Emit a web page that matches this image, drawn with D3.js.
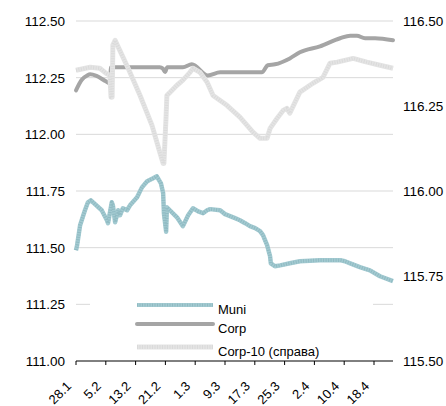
<!DOCTYPE html>
<html>
<head>
<meta charset="utf-8">
<script src="https://cdn.jsdelivr.net/npm/d3@7"></script>
<style>
  body { margin: 0; background: #fff; }
  text { font-family: "Liberation Sans", Arial, sans-serif; fill: #000; }
</style>
</head>
<body>
<div id="chart"></div>
<script>
// ==============================
// Data (x = days since 28.1)
// ==============================
var tickDays = [0, 8, 16, 24, 32, 40, 48, 56, 64, 72, 80];
var tickLabels = ["28.1", "5.2", "13.2", "21.2", "1.3", "9.3", "17.3", "25.3", "2.4", "10.4", "18.4"];
var leftTicks = [111.00, 111.25, 111.50, 111.75, 112.00, 112.25, 112.50];
var rightTicks = [115.50, 115.75, 116.00, 116.25, 116.50];

var muniDays = [0, 0.3, 1.1, 2.4, 3.2, 4.0, 6.9, 8.3, 8.6, 9.6, 9.9, 10.5, 11.3, 11.8, 12.6, 13.7, 14.5, 16.4, 17.7, 19.1, 20.7, 21.7, 22.8, 23.4, 23.6, 24.2, 24.4, 25.2, 27.1, 28.7, 30.1, 31.4, 32.8, 34.1, 35.2, 36.0, 38.7, 40.0, 42.7, 44.0, 45.4, 46.7, 48.1, 49.4, 50.2, 51.3, 52.1, 52.3, 53.4, 54.8, 57.4, 60.1, 65.5, 68.2, 70.9, 72.2, 73.6, 76.2, 78.9, 81.6, 85.1];
var muniVals = [111.489, 111.511, 111.599, 111.665, 111.700, 111.709, 111.665, 111.621, 111.608, 111.700, 111.687, 111.612, 111.665, 111.643, 111.674, 111.665, 111.687, 111.722, 111.766, 111.793, 111.806, 111.815, 111.784, 111.740, 111.652, 111.570, 111.678, 111.665, 111.634, 111.595, 111.643, 111.674, 111.660, 111.652, 111.665, 111.670, 111.665, 111.648, 111.630, 111.621, 111.608, 111.595, 111.586, 111.573, 111.555, 111.511, 111.462, 111.431, 111.418, 111.422, 111.431, 111.440, 111.445, 111.445, 111.445, 111.440, 111.431, 111.414, 111.400, 111.374, 111.352];

var corpDays = [0, 1.5, 3.0, 3.8, 5.5, 8.0, 9.1, 9.4, 22.5, 23.3, 23.9, 24.5, 28.7, 31.1, 35.4, 38.7, 49.9, 51.5, 53.4, 57.4, 60.1, 65.5, 70.9, 73.6, 75.4, 77.6, 80.3, 85.1];
var corpVals = [112.194, 112.240, 112.260, 112.265, 112.258, 112.234, 112.225, 112.296, 112.296, 112.290, 112.275, 112.296, 112.296, 112.309, 112.260, 112.274, 112.274, 112.305, 112.309, 112.335, 112.362, 112.388, 112.424, 112.435, 112.435, 112.424, 112.424, 112.415];

var corp10Days = [0, 3.8, 6.4, 8.1, 9.1, 9.4, 9.7, 9.9, 10.5, 14.0, 17.2, 20.4, 22.5, 23.4, 23.6, 24.2, 24.4, 25.2, 27.1, 28.7, 30.6, 31.4, 33.3, 35.2, 36.8, 40.5, 44.0, 47.5, 49.4, 51.3, 52.1, 54.0, 55.6, 56.6, 57.4, 60.1, 63.6, 66.3, 68.2, 70.1, 74.4, 78.1, 81.6, 85.1];
var corp10Vals = [116.355, 116.364, 116.361, 116.346, 116.340, 116.276, 116.276, 116.429, 116.443, 116.361, 116.281, 116.193, 116.114, 116.081, 116.081, 116.223, 116.281, 116.290, 116.311, 116.326, 116.349, 116.361, 116.349, 116.320, 116.281, 116.252, 116.217, 116.173, 116.155, 116.155, 116.184, 116.214, 116.237, 116.243, 116.229, 116.291, 116.317, 116.334, 116.376, 116.379, 116.390, 116.379, 116.370, 116.361];

var seriesNames = ["Muni", "Corp", "Corp-10 (справа)"];

// ==============================
// Setup SVG Area
// ==============================
var svgWidth = 446, svgHeight = 406;
var margin = { top: 21, right: 53, bottom: 45, left: 76 };
var width = svgWidth - margin.left - margin.right;
var height = svgHeight - margin.top - margin.bottom;

var svg = d3.select("#chart").append("svg")
  .attr("width", svgWidth)
  .attr("height", svgHeight);

var chartGroup = svg.append("g")
  .attr("transform", `translate(${margin.left}, ${margin.top})`);

// Scales
var xScale = d3.scaleLinear().domain([0, 85.1]).range([0, width]);
var yLeft = d3.scaleLinear().domain([111, 112.5]).range([height, 0]);
var yRight = d3.scaleLinear().domain([115.5, 116.5]).range([height, 0]);

// Gridlines
chartGroup.selectAll(".grid")
  .data(leftTicks.slice(1))
  .enter().append("line")
  .attr("x1", 0).attr("x2", width)
  .attr("y1", d => yLeft(d)).attr("y2", d => yLeft(d))
  .attr("stroke", "#d9d9d9").attr("stroke-width", 1);

// Left axis labels
chartGroup.selectAll(".ly")
  .data(leftTicks)
  .enter().append("text")
  .attr("x", -11)
  .attr("y", d => yLeft(d))
  .attr("dy", "0.38em")
  .attr("text-anchor", "end")
  .style("font-size", "13.5px")
  .text(d => d.toFixed(2));

// Right axis labels
chartGroup.selectAll(".ry")
  .data(rightTicks)
  .enter().append("text")
  .attr("x", width + 10)
  .attr("y", d => yRight(d))
  .attr("dy", "0.38em")
  .attr("text-anchor", "start")
  .style("font-size", "13.5px")
  .text(d => d.toFixed(2));

// Lines
var muniData = muniDays.map((d, i) => ({ x: d, y: muniVals[i] }));
var corpData = corpDays.map((d, i) => ({ x: d, y: corpVals[i] }));
var corp10Data = corp10Days.map((d, i) => ({ x: d, y: corp10Vals[i] }));

var lineLeft = d3.line().x(d => xScale(d.x)).y(d => yLeft(d.y));
var lineRight = d3.line().x(d => xScale(d.x)).y(d => yRight(d.y));

chartGroup.append("path").datum(muniData)
  .attr("d", lineLeft).attr("fill", "none")
  .attr("stroke", "#a3cad1").attr("stroke-width", 4.5)
  .attr("stroke-linejoin", "round");
chartGroup.append("path").datum(muniData)
  .attr("d", lineLeft).attr("fill", "none")
  .attr("stroke", "#8fbac2").attr("stroke-width", 3.5)
  .attr("stroke-dasharray", "1,1.5").attr("stroke-linejoin", "round");

chartGroup.append("path").datum(corpData)
  .attr("d", d3.line().x(d => xScale(d.x)).y(d => yLeft(d.y)).curve(d3.curveMonotoneX))
  .attr("fill", "none")
  .attr("stroke", "#a5a5a5").attr("stroke-width", 4)
  .attr("stroke-linejoin", "round").attr("stroke-linecap", "round");

chartGroup.append("path").datum(corp10Data)
  .attr("d", lineRight).attr("fill", "none")
  .attr("stroke", "#e4e4e4").attr("stroke-width", 5)
  .attr("stroke-linejoin", "round");
chartGroup.append("path").datum(corp10Data)
  .attr("d", lineRight).attr("fill", "none")
  .attr("stroke", "#dadada").attr("stroke-width", 3.5)
  .attr("stroke-dasharray", "1,1.5").attr("stroke-linejoin", "round");

// Bottom axis
chartGroup.append("line")
  .attr("x1", 0).attr("x2", width)
  .attr("y1", height).attr("y2", height)
  .attr("stroke", "#000").attr("stroke-width", 1);

chartGroup.selectAll(".xt")
  .data(tickDays)
  .enter().append("line")
  .attr("x1", d => xScale(d)).attr("x2", d => xScale(d))
  .attr("y1", height).attr("y2", height + 4)
  .attr("stroke", "#000");

chartGroup.selectAll(".xl")
  .data(tickDays)
  .enter().append("text")
  .attr("transform", d => `translate(${xScale(d) - 4}, ${height + 26}) rotate(-45)`)
  .attr("text-anchor", "end")
  .style("font-size", "13px")
  .text((d, i) => tickLabels[i]);

// Legend
var legend = chartGroup.append("g")
  .attr("transform", `translate(${14}, ${272})`);

legend.append("rect")
  .attr("x", 0).attr("y", 0)
  .attr("width", 283).attr("height", 66)
  .attr("fill", "#fff");

var legendStyles = [
  { color: "#a3cad1", dots: "#8fbac2", w: 4 },
  { color: "#a5a5a5", dots: null, w: 4 },
  { color: "#e4e4e4", dots: "#dadada", w: 5 }
];
var legendY = [12, 31, 54];

seriesNames.forEach(function(name, i) {
  var st = legendStyles[i];
  legend.append("line")
    .attr("x1", 47).attr("x2", 123)
    .attr("y1", legendY[i]).attr("y2", legendY[i])
    .attr("stroke", st.color).attr("stroke-width", st.w)
    .attr("stroke-linecap", st.dots ? "butt" : "round");
  if (st.dots) {
    legend.append("line")
      .attr("x1", 47).attr("x2", 123)
      .attr("y1", legendY[i]).attr("y2", legendY[i])
      .attr("stroke", st.dots).attr("stroke-width", st.w - 1)
      .attr("stroke-dasharray", "1,1.5");
  }
  legend.append("text")
    .attr("x", 128)
    .attr("y", legendY[i] + 4)
    .attr("dy", "0.35em")
    .style("font-size", "13px")
    .text(name);
});
</script>
</body>
</html>
